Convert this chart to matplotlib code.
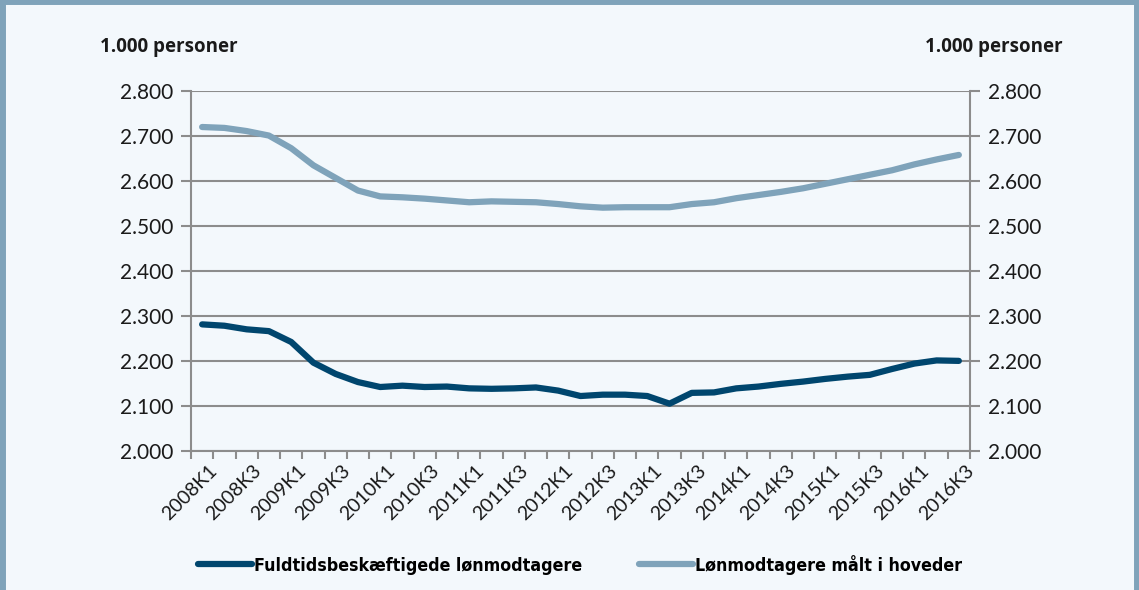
import numpy as np
import matplotlib.pyplot as plt
from matplotlib.lines import Line2D
from matplotlib.ticker import FuncFormatter, MultipleLocator
from matplotlib.transforms import ScaledTranslation

# Kvartaler 2008K1 - 2016K3
kvartaler = [f"{aar}K{k}" for aar in range(2008, 2017) for k in range(1, 5)][:35]

# 1.000 personer
fuldtid = [2281, 2278, 2270, 2266, 2242, 2196, 2171, 2153, 2142, 2145,
           2142, 2143, 2139, 2138, 2139, 2141, 2134, 2122, 2125, 2125,
           2122, 2105, 2129, 2130, 2139, 2143, 2149, 2154, 2160, 2165,
           2169, 2182, 2194, 2201, 2200]
hoveder = [2719, 2717, 2710, 2700, 2672, 2634, 2606, 2578, 2565, 2563,
           2560, 2556, 2552, 2554, 2553, 2552, 2548, 2543, 2540, 2541,
           2541, 2541, 2548, 2552, 2561, 2568, 2575, 2583, 2593, 2603,
           2613, 2623, 2636, 2647, 2657]

navne = ["Fuldtidsbeskæftigede lønmodtagere", "Lønmodtagere målt i hoveder"]
farver = ["#00466e", "#7fa3ba"]

bg = "#f3f8fc"
grid = "#8c8c8c"
tekst = "#1a1a1a"
plt.rcParams['font.family'] = ['Lato', 'DejaVu Sans']

fig = plt.figure(figsize=(11.39, 5.9), dpi=100, facecolor=bg)
ax = fig.add_axes([0.1677, 0.2356, 0.8516 - 0.1677, 0.8466 - 0.2356])
ax.set_facecolor(bg)

x = np.arange(len(kvartaler))
ax.plot(x, fuldtid, color=farver[0], lw=4.5, solid_capstyle='round', zorder=3)
ax.plot(x, hoveder, color=farver[1], lw=4.5, solid_capstyle='round', zorder=3)

ax.set_xlim(-0.5, len(kvartaler) - 0.5)
ax.set_ylim(2000, 2800)
ax.yaxis.set_major_locator(MultipleLocator(100))
ax.yaxis.set_major_formatter(FuncFormatter(lambda v, p: f"{v/1000:.3f}"))
ax.grid(axis='y', color=grid, lw=1.5, zorder=1)

ax.spines['top'].set_visible(False)
for s in ['left', 'right', 'bottom']:
    ax.spines[s].set_color(grid)
    ax.spines[s].set_linewidth(1.5)

ax.tick_params(axis='y', which='both', left=True, right=True, labelleft=True,
               labelright=True, length=7, width=1.5, color=grid,
               labelsize=15, pad=6, labelcolor=tekst)

# kategorigrænser som små streger, etiketter for hvert andet kvartal
ax.set_xticks(np.arange(-0.5, len(kvartaler)), minor=True)
ax.set_xticks(x[::2])
ax.set_xticklabels(kvartaler[::2], rotation=45, ha='right',
                   rotation_mode='anchor', fontsize=14, color=tekst)
ax.tick_params(axis='x', which='major', length=0, pad=8)
ax.tick_params(axis='x', which='minor', length=6, width=1.5, color=grid)
skub = ScaledTranslation(6 / 100, 0, fig.dpi_scale_trans)
for lbl in ax.get_xticklabels():
    lbl.set_transform(lbl.get_transform() + skub)

hoved = dict(fontsize=13.5, fontweight='bold', va='center', color=tekst,
             family=['Open Sans', 'DejaVu Sans'])
fig.text(0.088, 0.921, "1.000 personer", ha='left', **hoved)
fig.text(0.933, 0.921, "1.000 personer", ha='right', **hoved)

handles = [Line2D([], [], color=c, lw=4.5, solid_capstyle='round') for c in farver]
fig.legend(handles, navne, loc='center', bbox_to_anchor=(0.5097, 0.043),
           ncol=2, frameon=False, handlelength=3.0, handletextpad=0.15,
           columnspacing=3.2,
           prop={'family': 'DejaVu Sans', 'stretch': 'condensed',
                 'weight': 'bold', 'size': 12.8})

# ramme om figuren
for xs, ys in [([0.002, 0.002], [0, 1]), ([0, 1], [0.998, 0.998]),
               ([0.998, 0.998], [0, 1])]:
    fig.add_artist(Line2D(xs, ys, transform=fig.transFigure,
                          color=farver[1], lw=5))

fig.savefig("out.png", dpi=100, facecolor=bg)
